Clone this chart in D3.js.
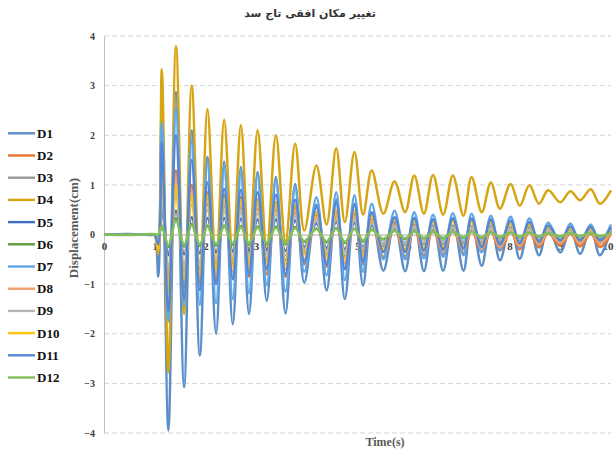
<!DOCTYPE html>
<html>
<head>
<meta charset="utf-8">
<script src="https://cdn.jsdelivr.net/npm/d3@7"></script>
<style>
  body { margin: 0; background: #fff; }
  svg { display: block; }
</style>
</head>
<body>
<svg width="614" height="450"></svg>
<script>
// time of each extremum (s): rest, onset, pre-dip, then peak / trough alternating
var time = [0, 0.5, 0.95, 1.00, 1.07,
  1.14, 1.27, 1.42, 1.58, 1.73, 1.89, 2.04, 2.21, 2.37, 2.54,
  2.70, 2.86, 3.03, 3.21, 3.39, 3.58, 3.77, 3.95, 4.19, 4.39,
  4.58, 4.75, 4.94, 5.11, 5.28, 5.51, 5.73, 5.94, 6.12, 6.31,
  6.49, 6.69, 6.88, 7.09, 7.25, 7.45, 7.63, 7.81, 8.02, 8.20,
  8.39, 8.58, 8.76, 9.00, 9.20, 9.39, 9.60, 9.78, 10.0];

var names = ["D1", "D2", "D3", "D4", "D5", "D6", "D7", "D8", "D9", "D10", "D11", "D12"];

var d1 = [0, 0, 0, 0, -0.85,
  2.56, -3.95, 2.87, -3.08, 2.10, -2.44, 1.56, -2.00, 1.47, -1.81,
  1.36, -1.60, 1.26, -1.34, 1.16, -1.59, 1.02, -0.97, 0.60, -1.13,
  0.70, -1.30, 0.62, -1.03, 0.42, -0.73, 0.25, -0.74, 0.28, -0.74,
  0.30, -0.73, 0.32, -0.73, 0.30, -0.63, 0.25, -0.52, 0.22, -0.49,
  0.18, -0.42, 0.15, -0.36, 0.12, -0.39, 0.15, -0.42, 0.12];
var d2 = [0, 0, 0, 0, -0.2,
  1.30, -1.16, 1.29, -1.06, 1.00, -1.00, 0.85, -0.95, 0.80, -0.90,
  0.75, -0.85, 0.70, -0.80, 0.65, -0.85, 0.55, -0.60, 0.40, -0.65,
  0.45, -0.70, 0.42, -0.60, 0.30, -0.45, 0.18, -0.45, 0.15, -0.42,
  0.12, -0.40, 0.12, -0.38, 0.10, -0.35, 0.08, -0.32, 0.06, -0.30,
  0.05, -0.26, 0.03, -0.22, 0.02, -0.24, 0.02, -0.25, 0.02];
var d3v = [0, 0, 0, 0, -0.15,
  1.00, -0.85, 0.95, -0.75, 0.75, -0.70, 0.62, -0.62, 0.58, -0.58,
  0.55, -0.55, 0.52, -0.50, 0.50, -0.52, 0.45, -0.36, 0.34, -0.40,
  0.38, -0.44, 0.36, -0.36, 0.28, -0.24, 0.20, -0.22, 0.19, -0.20,
  0.18, -0.19, 0.18, -0.18, 0.17, -0.16, 0.16, -0.14, 0.14, -0.12,
  0.13, -0.10, 0.10, -0.08, 0.08, -0.08, 0.08, -0.08, 0.08];
var d4 = [0, 0, 0, 0, -0.4,
  3.33, -2.78, 3.80, -1.60, 3.00, -1.00, 2.53, -0.70, 2.31, -0.50,
  2.20, -0.40, 2.10, -0.30, 2.00, -0.15, 1.83, 0.08, 1.39, 0.20,
  1.74, 0.25, 1.66, 0.40, 1.29, 0.42, 1.07, 0.45, 1.19, 0.42,
  1.20, 0.40, 1.19, 0.38, 1.16, 0.45, 1.05, 0.52, 1.02, 0.58,
  0.99, 0.62, 0.89, 0.65, 0.87, 0.69, 0.91, 0.62, 0.89];
var d5 = [0, 0, 0, 0, -0.05,
  0.55, -0.42, 0.48, -0.40, 0.35, -0.38, 0.33, -0.36, 0.33, -0.34,
  0.32, -0.33, 0.30, -0.32, 0.30, -0.33, 0.28, -0.25, 0.22, -0.27,
  0.25, -0.30, 0.23, -0.25, 0.18, -0.18, 0.14, -0.17, 0.13, -0.16,
  0.12, -0.15, 0.12, -0.14, 0.12, -0.13, 0.11, -0.12, 0.10, -0.11,
  0.09, -0.10, 0.07, -0.08, 0.06, -0.08, 0.06, -0.08, 0.06];
var d6 = [0, 0.01, -0.01, 0, -0.02,
  0.18, -0.25, 0.32, -0.24, 0.21, -0.23, 0.18, -0.22, 0.18, -0.21,
  0.17, -0.20, 0.16, -0.19, 0.16, -0.20, 0.15, -0.15, 0.12, -0.16,
  0.13, -0.17, 0.12, -0.14, 0.10, -0.10, 0.08, -0.09, 0.07, -0.08,
  0.06, -0.08, 0.06, -0.07, 0.06, -0.07, 0.05, -0.06, 0.05, -0.05,
  0.04, -0.05, 0.04, -0.04, 0.03, -0.04, 0.03, -0.04, 0.03];
var d7 = [0, 0, 0, 0, -0.3,
  2.25, -1.75, 2.55, -1.45, 1.90, -1.42, 1.45, -1.38, 1.38, -1.30,
  1.30, -1.18, 1.20, -1.02, 1.10, -1.15, 0.95, -0.75, 0.75, -0.82,
  0.85, -0.92, 0.79, -0.75, 0.62, -0.50, 0.48, -0.50, 0.45, -0.48,
  0.40, -0.45, 0.43, -0.42, 0.42, -0.36, 0.38, -0.30, 0.36, -0.26,
  0.32, -0.22, 0.24, -0.18, 0.22, -0.18, 0.20, -0.18, 0.20];
var d8 = [0, 0, 0, 0, -0.15,
  1.10, -0.95, 1.10, -0.90, 0.88, -0.85, 0.72, -0.80, 0.68, -0.75,
  0.64, -0.70, 0.60, -0.66, 0.56, -0.70, 0.48, -0.50, 0.36, -0.54,
  0.40, -0.58, 0.37, -0.50, 0.27, -0.36, 0.18, -0.36, 0.16, -0.34,
  0.14, -0.32, 0.14, -0.30, 0.12, -0.28, 0.10, -0.25, 0.08, -0.23,
  0.07, -0.20, 0.05, -0.17, 0.04, -0.18, 0.04, -0.18, 0.04];
var d9 = [0, 0, 0, 0, -0.1,
  0.80, -0.68, 0.75, -0.60, 0.60, -0.56, 0.50, -0.50, 0.46, -0.46,
  0.44, -0.44, 0.42, -0.40, 0.40, -0.42, 0.36, -0.29, 0.27, -0.32,
  0.30, -0.35, 0.29, -0.29, 0.22, -0.19, 0.16, -0.18, 0.15, -0.16,
  0.14, -0.15, 0.14, -0.14, 0.14, -0.13, 0.13, -0.11, 0.11, -0.10,
  0.10, -0.08, 0.08, -0.07, 0.06, -0.06, 0.06, -0.06, 0.06];
var d10 = [0, 0, 0, 0, -0.3,
  1.56, -1.16, 0.99, -0.90, 0.79, -0.80, 0.79, -0.70, 0.72, -0.65,
  0.70, -0.60, 0.68, -0.55, 0.65, -0.60, 0.60, -0.40, 0.45, -0.45,
  0.50, -0.50, 0.48, -0.42, 0.38, -0.30, 0.30, -0.30, 0.28, -0.28,
  0.26, -0.26, 0.27, -0.25, 0.26, -0.22, 0.25, -0.20, 0.22, -0.18,
  0.20, -0.15, 0.15, -0.12, 0.12, -0.12, 0.12, -0.12, 0.12];
var d11 = [0, 0, 0, 0, -0.2,
  1.85, -1.53, 2.00, -1.30, 1.50, -1.12, 1.05, -1.00, 0.92, -0.90,
  0.90, -0.80, 0.85, -0.70, 0.80, -0.80, 0.70, -0.55, 0.55, -0.60,
  0.65, -0.70, 0.60, -0.55, 0.45, -0.35, 0.35, -0.35, 0.33, -0.32,
  0.30, -0.30, 0.32, -0.28, 0.32, -0.25, 0.30, -0.20, 0.28, -0.18,
  0.25, -0.15, 0.18, -0.12, 0.16, -0.12, 0.15, -0.12, 0.15];
var d12 = [0, -0.01, 0.01, 0, 0,
  0.16, -0.22, 0.28, -0.21, 0.19, -0.20, 0.16, -0.19, 0.16, -0.18,
  0.15, -0.18, 0.14, -0.17, 0.14, -0.18, 0.13, -0.13, 0.11, -0.14,
  0.12, -0.15, 0.11, -0.12, 0.09, -0.09, 0.07, -0.08, 0.06, -0.07,
  0.05, -0.07, 0.05, -0.06, 0.05, -0.06, 0.05, -0.05, 0.04, -0.05,
  0.04, -0.04, 0.03, -0.04, 0.03, -0.03, 0.03, -0.03, 0.03];

var yTicks = [-4, -3, -2, -1, 0, 1, 2, 3, 4];
var xTicks = [0, 1, 2, 3, 4, 5, 6, 7, 8, 9, 10];

var colors = ["#5b8fc9", "#e8742f", "#979797", "#d6a514", "#3f6fc4", "#5f9c3c",
              "#63a6e6", "#f2a06c", "#b6b6b6", "#ffc20e", "#5486d6", "#82bf5a"];

var allValues = [d1, d2, d3v, d4, d5, d6, d7, d8, d9, d10, d11, d12];

var svg = d3.select("svg");

var margin = { left: 104, right: 3, top: 36, bottom: 17 };
var width = 614, height = 450;

var x = d3.scaleLinear().domain([0, 10]).range([margin.left, width - margin.right]);
var y = d3.scaleLinear().domain([-4, 4]).range([height - margin.bottom, margin.top]);

// title
svg.append("text")
  .attr("x", 310)
  .attr("y", 17)
  .attr("text-anchor", "middle")
  .attr("font-family", "DejaVu Sans")
  .attr("font-weight", "bold")
  .attr("font-size", "11px")
  .attr("fill", "#333")
  .attr("direction", "rtl")
  .text("تغییر مکان افقی تاج سد");

// dashed gridlines
svg.append("g")
  .selectAll("line")
  .data(yTicks.filter(function(d) { return d !== 0; }))
  .enter()
  .append("line")
  .attr("x1", margin.left)
  .attr("x2", width - margin.right)
  .attr("y1", function(d) { return y(d); })
  .attr("y2", function(d) { return y(d); })
  .attr("stroke", "#d4d4d4")
  .attr("stroke-width", 1)
  .attr("stroke-dasharray", "5,3");

// y axis
var yAxis = svg.append("g")
  .attr("transform", "translate(" + margin.left + ",0)")
  .call(d3.axisLeft(y).tickValues(yTicks).tickSize(0).tickPadding(9));
yAxis.select(".domain").attr("stroke", "#bfbfbf");
yAxis.selectAll("text")
  .attr("font-family", "Liberation Serif")
  .attr("font-weight", "bold")
  .attr("font-size", "10px")
  .attr("fill", "#404040");

// x axis crossing at zero
var xAxis = svg.append("g")
  .attr("transform", "translate(0," + y(0) + ")")
  .call(d3.axisBottom(x).tickValues(xTicks).tickSize(0).tickPadding(8).tickFormat(d3.format("d")));
xAxis.select(".domain").attr("stroke", "#a6a6a6");
xAxis.selectAll("text")
  .attr("font-family", "Liberation Serif")
  .attr("font-weight", "bold")
  .attr("font-size", "11px")
  .attr("fill", "#404040")
  .attr("text-anchor", function(d) { return d === 10 ? "end" : "middle"; })
  .attr("dx", function(d) { return d === 10 ? "2" : "0"; });

// lines
var line = d3.line()
  .x(function(d) { return x(d.t); })
  .y(function(d) { return y(d.v); })
  .curve(d3.curveCatmullRom.alpha(0.5));

var series = names.map(function(n, i) {
  return {
    name: n,
    color: colors[i],
    values: time.map(function(t, j) { return { t: t, v: allValues[i][j] }; })
  };
});

svg.append("g")
  .selectAll("path.series")
  .data(series)
  .enter()
  .append("path")
  .attr("class", "series")
  .attr("d", function(d) { return line(d.values); })
  .attr("fill", "none")
  .attr("stroke", function(d) { return d.color; })
  .attr("stroke-width", 2.5)
  .attr("stroke-linejoin", "round");

// legend
var legend = svg.append("g")
  .selectAll("g")
  .data(series)
  .enter()
  .append("g")
  .attr("transform", function(d, i) { return "translate(8," + (133.3 + i * 22.2) + ")"; });

legend.append("line")
  .attr("x1", 0)
  .attr("x2", 27)
  .attr("stroke", function(d) { return d.color; })
  .attr("stroke-width", 2.4);

legend.append("text")
  .attr("x", 29)
  .attr("y", 0)
  .attr("dy", "0.35em")
  .attr("font-family", "Liberation Serif")
  .attr("font-weight", "bold")
  .attr("font-size", "13px")
  .attr("fill", "#111")
  .text(function(d) { return d.name; });

// axis titles
svg.append("text")
  .attr("transform", "translate(78," + 228 + ") rotate(-90)")
  .attr("text-anchor", "middle")
  .attr("font-family", "Liberation Serif")
  .attr("font-weight", "bold")
  .attr("font-size", "13px")
  .attr("fill", "#595959")
  .text("Displacement(cm)");

svg.append("text")
  .attr("x", 385)
  .attr("y", 446)
  .attr("text-anchor", "middle")
  .attr("font-family", "Liberation Serif")
  .attr("font-weight", "bold")
  .attr("font-size", "12px")
  .attr("fill", "#595959")
  .text("Time(s)");
</script>
</body>
</html>
